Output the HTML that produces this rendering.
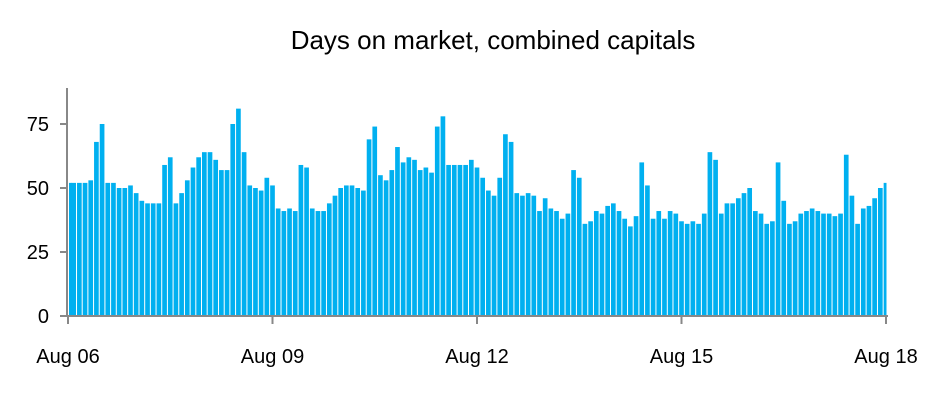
<!DOCTYPE html>
<html><head><meta charset="utf-8"><style>
body{margin:0;background:#fff;width:948px;height:413px;overflow:hidden;font-family:"Liberation Sans",sans-serif}
</style></head><body>
<svg id="chart" width="948" height="413" xmlns="http://www.w3.org/2000/svg">
<text x="493" y="49" text-anchor="middle" font-size="26" fill="#000">Days on market, combined capitals</text>
<g id="bars"></g>
<g id="axes"></g>
</svg>
<script>
const values=[52,52,52,52,53,68,75,52,52,50,50,51,48,45,44,44,44,59,62,44,48,53,58,62,64,64,61,57,57,75,81,64,51,50,49,54,
51,42,41,42,41,59,58,42,41,41,44,47,50,51,51,50,49,69,74,55,53,57,66,60,62,61,57,58,56,74,78,59,59,59,59,61,
58,54,49,47,54,71,68,48,47,48,47,41,46,42,41,38,40,57,54,36,37,41,40,43,44,41,38,35,39,60,51,38,41,38,41,40,
37,36,37,36,40,64,61,40,44,44,46,48,50,41,40,36,37,60,45,36,37,40,41,42,41,40,40,39,40,63,47,36,42,43,46,50,52];
const yTicks=[0,25,50,75];
const xLabels=["Aug 06","Aug 09","Aug 12","Aug 15","Aug 18"];
const xLabelIdx=[0,36,72,108,144];
const NS="http://www.w3.org/2000/svg";
const x0=68,x1=886,y0=316,yMaxPx=124,yMaxV=75;
const step=(x1-x0)/(values.length-1);
const xs=i=>x0+i*step;
const ys=v=>y0-(v/yMaxV)*(y0-yMaxPx);
const bars=document.getElementById('bars');
values.forEach((v,i)=>{
 const r=document.createElementNS(NS,'rect');
 
 
 const left=xs(i)-step/2+ (i===0?step/2+1:0);
 const w=(i===0?step/2-1:step-1);
 r.setAttribute('x',i===0?xs(i)+1:xs(i)-step/2+0.5);
 r.setAttribute('width',i===0?step/2:(i===values.length-1?step/2:step-1));
 r.setAttribute('y',ys(v));
 r.setAttribute('height',y0-ys(v));
 r.setAttribute('fill','#00b0f0');
 bars.appendChild(r);
});
const ax=document.getElementById('axes');
function line(x1_,y1_,x2_,y2_,name){const l=document.createElementNS(NS,'line');
 
 
 l.setAttribute('x1',x1_);l.setAttribute('y1',y1_);l.setAttribute('x2',x2_);l.setAttribute('y2',y2_);
 l.setAttribute('stroke','#888');l.setAttribute('stroke-width','2');ax.appendChild(l);}
line(67,88,67,317,'y-axis');
line(66,316,888,316,'x-axis');
yTicks.forEach(t=>{line(60,ys(t),67,ys(t),'y-tick');
 const tx=document.createElementNS(NS,'text');
 
 
 tx.setAttribute('x',49);tx.setAttribute('y',ys(t)+7);tx.setAttribute('text-anchor','end');
 tx.setAttribute('font-size','20');tx.textContent=t;ax.appendChild(tx);});
xLabelIdx.forEach((idx,k)=>{line(xs(idx),316,xs(idx),324,'x-tick');
 const tx=document.createElementNS(NS,'text');
 
 
 tx.setAttribute('x',xs(idx));tx.setAttribute('y',363);tx.setAttribute('text-anchor','middle');
 tx.setAttribute('font-size','20');tx.textContent=xLabels[k];ax.appendChild(tx);});
</script>
</body></html>
